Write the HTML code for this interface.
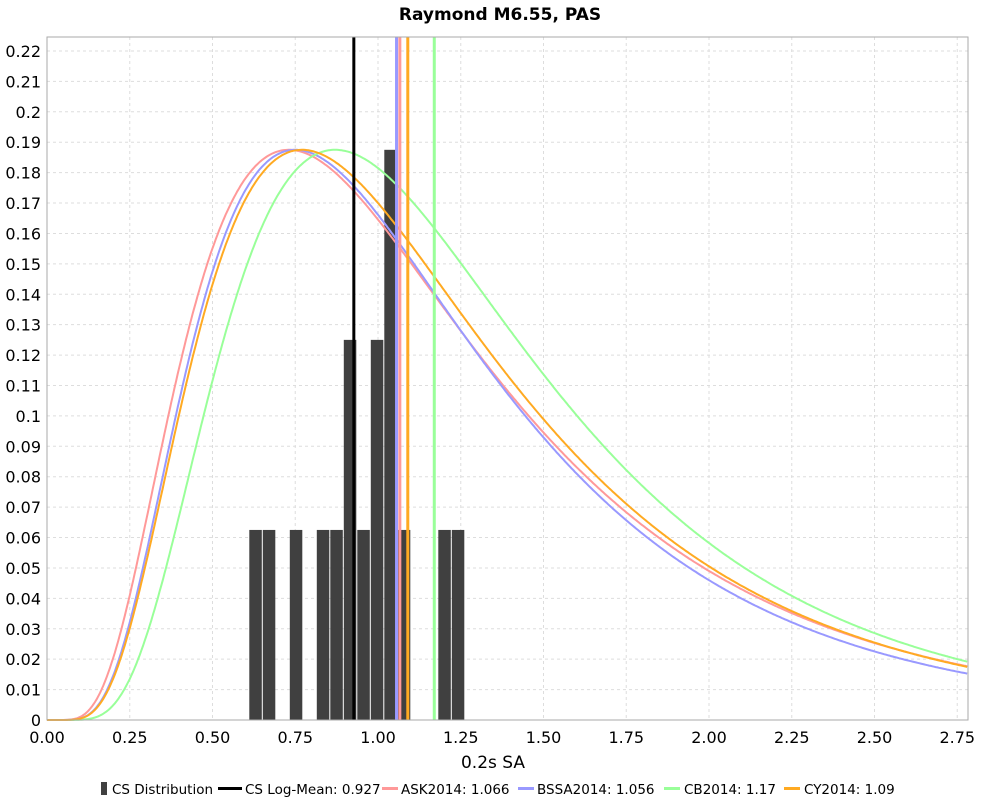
<!DOCTYPE html>
<html><head><meta charset="utf-8"><style>
body{margin:0;background:#fff;}
svg text{font-family:"DejaVu Sans","Liberation Sans",sans-serif;}
</style></head><body>
<svg id="s" width="1000" height="800" xmlns="http://www.w3.org/2000/svg">
<rect width="1000" height="800" fill="#fff"/>
<text x="500" y="20" text-anchor="middle" font-size="17" font-weight="bold">Raymond M6.55, PAS</text>
<g id="grid"></g><g id="bars"></g><g id="curves"></g>
<rect x="47" y="37" width="921" height="683" fill="none" stroke="#aaa" stroke-width="1"/>
<g id="labels"></g>
<text x="493" y="768" text-anchor="middle" font-size="17">0.2s SA</text>
<g font-size="13.5">
<rect x="101" y="782" width="6" height="13" fill="#404040"/>
<text x="112" y="794">CS Distribution</text>
<line x1="218" y1="788.5" x2="242" y2="788.5" stroke="#000" stroke-width="3"/>
<text x="245" y="794">CS Log-Mean: 0.927</text>
<line x1="382" y1="788.5" x2="398" y2="788.5" stroke="#ff9999" stroke-width="3"/>
<text x="401" y="794">ASK2014: 1.066</text>
<line x1="518" y1="788.5" x2="534" y2="788.5" stroke="#9999ff" stroke-width="3"/>
<text x="537" y="794">BSSA2014: 1.056</text>
<line x1="664" y1="788.5" x2="680" y2="788.5" stroke="#99ff99" stroke-width="3"/>
<text x="684" y="794">CB2014: 1.17</text>
<line x1="784" y1="788.5" x2="800" y2="788.5" stroke="#ffaa22" stroke-width="3"/>
<text x="804" y="794">CY2014: 1.09</text>
</g>
</svg>
<script>
const NS="http://www.w3.org/2000/svg";
const X=v=>47+v*331, Y=v=>720-v*3041;
function el(p,t,a,txt){const e=document.createElementNS(NS,t);for(const k in a)e.setAttribute(k,a[k]);if(txt!==undefined)e.textContent=txt;document.getElementById(p).appendChild(e);return e;}
for(let i=1;i<=22;i++){const y=Y(i/100);el('grid','line',{x1:47,x2:968,y1:y,y2:y,stroke:'#ddd','stroke-dasharray':'3,3'});
el('labels','text',{x:41,y:y+6,'text-anchor':'end','font-size':'16'},i==10?'0.1':i==20?'0.2':(i/100).toString());}
el('labels','text',{x:41,y:726,'text-anchor':'end','font-size':'16'},'0');
for(let i=0;i<=11;i++){const x=X(i*0.25);if(i>0)el('grid','line',{x1:x,x2:x,y1:37,y2:720,stroke:'#ddd','stroke-dasharray':'3,3'});
el('labels','text',{x:x,y:743,'text-anchor':'middle','font-size':'16'},(i*0.25).toFixed(2));}
const bars=[[0,1],[1,1],[3,1],[5,1],[6,1],[7,2],[8,1],[9,2],[10,3],[11,1],[14,1],[15,1]];
for(const [k,h] of bars){const x=249.3+13.5*k;el('bars','rect',{x:x,y:Y(h*0.0625),width:12.5,height:720-Y(h*0.0625),fill:'#404040'});}
const vl=[[0.927,'#000'],[1.056,'#9999ff'],[1.066,'#ff9999'],[1.09,'#ffaa22'],[1.17,'#99ff99']];
const cs=[[1.066,0.615,'#ff9999'],[1.056,0.585,'#9999ff'],[1.17,0.544,'#99ff99'],[1.09,0.589,'#ffaa22']];
for(const [m,s,c] of cs){const f=x=>Math.exp(-Math.pow(Math.log(x/m),2)/(2*s*s))/x;const mode=m*Math.exp(-s*s);const pk=f(mode);let d='M47,720';
for(let v=0.005;v<=2.783;v+=0.005){d+='L'+X(v).toFixed(1)+','+Y(0.1875*f(v)/pk).toFixed(1);}
el('curves','path',{d:d,fill:'none',stroke:c,'stroke-width':2});}
for(const [v,c] of vl){el('curves','line',{x1:X(v),x2:X(v),y1:37,y2:720,stroke:c,'stroke-width':3});}
</script>
</body></html>
